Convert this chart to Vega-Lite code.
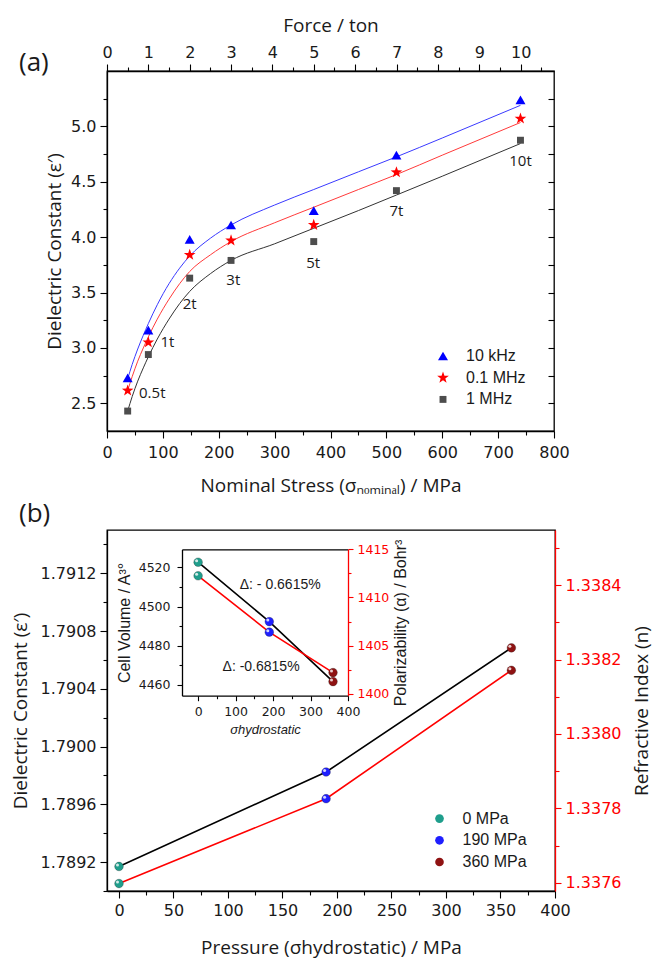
{
  "$schema": "https://vega.github.io/schema/vega-lite/v6.json",
  "background": "white",
  "padding": {"left": 10, "top": 15, "right": 0, "bottom": 0},
  "spacing": 4,
  "config": {
    "view": {"stroke": "#000", "strokeWidth": 1.3},
    "axis": {"grid": false, "domainColor": "#000", "domainWidth": 1.3, "tickColor": "#000", "tickWidth": 1.1, "labelColor": "#1a1a1a", "titleColor": "#1a1a1a", "labelFont": "DejaVu Sans", "labelFontSize": 16, "titleFont": "Open Sans", "titleFontSize": 19, "titleFontWeight": "normal", "labelOverlap": false, "labelFlush": false, "labelPadding": 4},
    "title": {"font": "Open Sans", "fontSize": 26, "fontWeight": "normal", "color": "#1a1a1a"},
    "legend": {"labelFont": "Liberation Sans", "labelFontSize": 16, "labelColor": "#1a1a1a"}
  },
  "datasets": {
    "curves": [
      {"s": "10 kHz", "x": 37, "y": 2.72}, {"s": "10 kHz", "x": 45, "y": 2.85}, {"s": "10 kHz", "x": 55, "y": 2.99}, {"s": "10 kHz", "x": 65, "y": 3.115}, {"s": "10 kHz", "x": 74, "y": 3.22}, {"s": "10 kHz", "x": 90, "y": 3.39}, {"s": "10 kHz", "x": 111, "y": 3.58}, {"s": "10 kHz", "x": 130, "y": 3.72}, {"s": "10 kHz", "x": 148, "y": 3.83}, {"s": "10 kHz", "x": 185, "y": 3.99}, {"s": "10 kHz", "x": 222, "y": 4.11}, {"s": "10 kHz", "x": 300, "y": 4.29}, {"s": "10 kHz", "x": 370, "y": 4.43}, {"s": "10 kHz", "x": 450, "y": 4.59}, {"s": "10 kHz", "x": 518, "y": 4.725}, {"s": "10 kHz", "x": 600, "y": 4.895}, {"s": "10 kHz", "x": 740, "y": 5.19},
      {"s": "0.1 MHz", "x": 37, "y": 2.615}, {"s": "0.1 MHz", "x": 45, "y": 2.74}, {"s": "0.1 MHz", "x": 55, "y": 2.88}, {"s": "0.1 MHz", "x": 65, "y": 3.0}, {"s": "0.1 MHz", "x": 74, "y": 3.10}, {"s": "0.1 MHz", "x": 90, "y": 3.26}, {"s": "0.1 MHz", "x": 111, "y": 3.44}, {"s": "0.1 MHz", "x": 130, "y": 3.58}, {"s": "0.1 MHz", "x": 148, "y": 3.69}, {"s": "0.1 MHz", "x": 185, "y": 3.84}, {"s": "0.1 MHz", "x": 222, "y": 3.96}, {"s": "0.1 MHz", "x": 300, "y": 4.13}, {"s": "0.1 MHz", "x": 370, "y": 4.27}, {"s": "0.1 MHz", "x": 450, "y": 4.43}, {"s": "0.1 MHz", "x": 518, "y": 4.565}, {"s": "0.1 MHz", "x": 600, "y": 4.74}, {"s": "0.1 MHz", "x": 740, "y": 5.035},
      {"s": "1 MHz", "x": 37, "y": 2.43}, {"s": "1 MHz", "x": 45, "y": 2.56}, {"s": "1 MHz", "x": 55, "y": 2.70}, {"s": "1 MHz", "x": 65, "y": 2.82}, {"s": "1 MHz", "x": 74, "y": 2.92}, {"s": "1 MHz", "x": 90, "y": 3.08}, {"s": "1 MHz", "x": 111, "y": 3.26}, {"s": "1 MHz", "x": 130, "y": 3.40}, {"s": "1 MHz", "x": 148, "y": 3.51}, {"s": "1 MHz", "x": 185, "y": 3.67}, {"s": "1 MHz", "x": 222, "y": 3.79}, {"s": "1 MHz", "x": 300, "y": 3.94}, {"s": "1 MHz", "x": 370, "y": 4.08}, {"s": "1 MHz", "x": 450, "y": 4.24}, {"s": "1 MHz", "x": 518, "y": 4.38}, {"s": "1 MHz", "x": 600, "y": 4.55}, {"s": "1 MHz", "x": 740, "y": 4.845}
    ],
    "pts": [
      {"s": "10 kHz", "ton": 0.5, "x": 37, "y": 2.73}, {"s": "10 kHz", "ton": 1, "x": 74, "y": 3.16}, {"s": "10 kHz", "ton": 2, "x": 148, "y": 3.98}, {"s": "10 kHz", "ton": 3, "x": 222, "y": 4.11}, {"s": "10 kHz", "ton": 5, "x": 370, "y": 4.24}, {"s": "10 kHz", "ton": 7, "x": 518, "y": 4.74}, {"s": "10 kHz", "ton": 10, "x": 740, "y": 5.24},
      {"s": "0.1 MHz", "ton": 0.5, "x": 37, "y": 2.615}, {"s": "0.1 MHz", "ton": 1, "x": 74, "y": 3.05}, {"s": "0.1 MHz", "ton": 2, "x": 148, "y": 3.84}, {"s": "0.1 MHz", "ton": 3, "x": 222, "y": 3.97}, {"s": "0.1 MHz", "ton": 5, "x": 370, "y": 4.11}, {"s": "0.1 MHz", "ton": 7, "x": 518, "y": 4.585}, {"s": "0.1 MHz", "ton": 10, "x": 740, "y": 5.07},
      {"s": "1 MHz", "ton": 0.5, "x": 37, "y": 2.43}, {"s": "1 MHz", "ton": 1, "x": 74, "y": 2.94}, {"s": "1 MHz", "ton": 2, "x": 148, "y": 3.63}, {"s": "1 MHz", "ton": 3, "x": 222, "y": 3.79}, {"s": "1 MHz", "ton": 5, "x": 370, "y": 3.96}, {"s": "1 MHz", "ton": 7, "x": 518, "y": 4.42}, {"s": "1 MHz", "ton": 10, "x": 740, "y": 4.875}
    ],
    "tlab": [
      {"t": "0.5t", "x": 81, "y": 2.59}, {"t": "1t", "x": 108, "y": 3.05}, {"t": "2t", "x": 148, "y": 3.40}, {"t": "3t", "x": 226, "y": 3.61}, {"t": "5t", "x": 369, "y": 3.77}, {"t": "7t", "x": 518, "y": 4.235}, {"t": "10t", "x": 740, "y": 4.69}
    ],
    "bulk": [
      {"g": "0 MPa", "p": 0, "d": 1.78917, "n": 1.337598},
      {"g": "190 MPa", "p": 190, "d": 1.789824, "n": 1.337826},
      {"g": "360 MPa", "p": 360, "d": 1.790684, "n": 1.338171}
    ],
    "inset": [
      {"g": "0 MPa", "p": 0, "v": 4522.6, "a": 1412.25},
      {"g": "190 MPa", "p": 190, "v": 4492.3, "a": 1406.4},
      {"g": "360 MPa", "p": 360, "v": 4461.7, "a": 1402.2}
    ],
    "ianno": [
      {"t": "Δ: - 0.6615%", "p": 219, "v": 4511},
      {"t": "Δ: -0.6815%", "p": 168, "v": 4469.3}
    ]
  },
  "resolve": {"scale": {"fill": "independent", "shape": "independent", "size": "independent"}, "legend": {"fill": "independent", "shape": "independent", "size": "independent"}},
  "vconcat": [
    {
      "width": 447,
      "height": 360,
      "title": {"text": "(a)", "anchor": "start", "frame": "group", "dx": -88, "dy": 60, "offset": 0},
      "layer": [
        {
          "encoding": {
            "x": {"field": "x", "type": "quantitative", "scale": {"domain": [0, 800], "nice": false, "zero": false},
              "axis": {"orient": "bottom", "title": "Nominal Stress (σₙₒₘᵢₙₐₗ) / MPa", "values": [0, 50, 100, 150, 200, 250, 300, 350, 400, 450, 500, 550, 600, 650, 700, 750, 800], "labelExpr": "datum.value % 100 === 0 ? datum.label : ''", "tickSize": {"condition": {"test": "datum.value % 100 === 0", "value": 7}, "value": 4}, "labelPadding": 6, "titlePadding": 16}},
            "y": {"field": "y", "type": "quantitative", "scale": {"domain": [2.25, 5.5], "nice": false, "zero": false},
              "axis": {"orient": "left", "title": "Dielectric Constant (ε′)", "values": [2.5, 2.75, 3, 3.25, 3.5, 3.75, 4, 4.25, 4.5, 4.75, 5, 5.25], "format": ".1f", "labelExpr": "round(datum.value * 2) === datum.value * 2 ? datum.label : ''", "tickSize": {"condition": {"test": "round(datum.value * 2) === datum.value * 2", "value": 7}, "value": 4}, "titlePadding": 6}}
          },
          "layer": [
            {"data": {"name": "curves"}, "transform": [{"filter": "datum.s === '10 kHz'"}], "mark": {"type": "line", "strokeWidth": 1, "interpolate": "monotone", "color": "#3a3aff"}},
            {"data": {"name": "curves"}, "transform": [{"filter": "datum.s === '0.1 MHz'"}], "mark": {"type": "line", "strokeWidth": 1, "interpolate": "monotone", "color": "#ff3a3a"}},
            {"data": {"name": "curves"}, "transform": [{"filter": "datum.s === '1 MHz'"}], "mark": {"type": "line", "strokeWidth": 1, "interpolate": "monotone", "color": "#333333"}},
            {
              "data": {"name": "pts"},
              "mark": {"type": "point", "filled": true, "opacity": 1},
              "encoding": {
                "fill": {"field": "s", "type": "nominal", "scale": {"domain": ["10 kHz", "0.1 MHz", "1 MHz"], "range": ["#0000ff", "#ff0000", "#4d4d4d"]},
                  "legend": {"title": null, "orient": "none", "legendX": 328, "legendY": 277, "rowPadding": 5.7, "labelOffset": 15, "padding": 0, "symbolStrokeWidth": 0}},
                "shape": {"field": "s", "type": "nominal", "scale": {"domain": ["10 kHz", "0.1 MHz", "1 MHz"], "range": ["triangle-up", "M0,-1L0.2351,-0.3236L0.9511,-0.309L0.3804,0.1236L0.5878,0.809L0,0.4L-0.5878,0.809L-0.3804,0.1236L-0.9511,-0.309L-0.2351,-0.3236Z", "square"]},
                  "legend": {"title": null, "orient": "none", "legendX": 328, "legendY": 277, "rowPadding": 5.7, "labelOffset": 15, "padding": 0, "symbolStrokeWidth": 0}},
                "size": {"field": "s", "type": "nominal", "scale": {"type": "ordinal", "domain": ["10 kHz", "0.1 MHz", "1 MHz"], "range": [100, 150, 48]},
                  "legend": {"title": null, "orient": "none", "legendX": 328, "legendY": 277, "rowPadding": 5.7, "labelOffset": 15, "padding": 0, "symbolStrokeWidth": 0}}
              }
            },
            {
              "data": {"name": "tlab"},
              "mark": {"type": "text", "font": "Open Sans", "fontSize": 15, "color": "#1a1a1a", "align": "center", "baseline": "middle"},
              "encoding": {"text": {"field": "t"}}
            }
          ]
        },
        {
          "data": {"name": "pts"},
          "mark": {"type": "point", "opacity": 0},
          "encoding": {
            "x": {"field": "ton", "type": "quantitative", "scale": {"domain": [0, 10.807], "nice": false, "zero": false},
              "axis": {"orient": "top", "title": "Force / ton", "values": [0, 0.5, 1, 1.5, 2, 2.5, 3, 3.5, 4, 4.5, 5, 5.5, 6, 6.5, 7, 7.5, 8, 8.5, 9, 9.5, 10, 10.5], "labelExpr": "datum.value % 1 === 0 ? format(datum.value, 'd') : ''", "tickSize": {"condition": {"test": "datum.value % 1 === 0", "value": 7}, "value": 4}, "titlePadding": 9}}
          }
        },
        {
          "data": {"name": "pts"},
          "mark": {"type": "point", "opacity": 0},
          "encoding": {
            "y": {"field": "y", "type": "quantitative", "scale": {"domain": [2.25, 5.5], "nice": false, "zero": false},
              "axis": {"orient": "right", "title": null, "labels": false, "domain": false, "values": [2.5, 2.75, 3, 3.25, 3.5, 3.75, 4, 4.25, 4.5, 4.75, 5, 5.25], "tickSize": -6}}
          }
        }
      ],
      "resolve": {"scale": {"x": "independent"}, "axis": {"x": "independent", "y": "independent"}}
    },
    {
      "width": 448,
      "height": 361,
      "title": {"text": "(b)", "anchor": "start", "frame": "group", "dx": -88, "offset": 3},
      "layer": [
        {
          "data": {"name": "bulk"},
          "encoding": {
            "x": {"field": "p", "type": "quantitative", "scale": {"domain": [-11, 400], "nice": false, "zero": false},
              "axis": {"orient": "bottom", "title": "Pressure (σhydrostatic) / MPa", "values": [0, 25, 50, 75, 100, 125, 150, 175, 200, 225, 250, 275, 300, 325, 350, 375, 400], "labelExpr": "datum.value % 50 === 0 ? datum.label : ''", "tickSize": {"condition": {"test": "datum.value % 50 === 0", "value": 7}, "value": 4}, "titlePadding": 20}},
            "y": {"field": "d", "type": "quantitative", "scale": {"domain": [1.789, 1.7915], "nice": false, "zero": false},
              "axis": {"orient": "left", "title": "Dielectric Constant (ε′)", "values": [1.789, 1.7892, 1.7894, 1.7896, 1.7898, 1.79, 1.7902, 1.7904, 1.7906, 1.7908, 1.791, 1.7912, 1.7914], "format": ".4f", "labelExpr": "round(datum.value * 10000) % 4 === 0 ? datum.label : ''", "tickSize": {"condition": {"test": "round(datum.value * 10000) % 4 === 0", "value": 7}, "value": 4}, "titlePadding": 10}}
          },
          "layer": [
            {"mark": {"type": "line", "color": "#000", "strokeWidth": 1.6}},
            {"mark": {"type": "point", "filled": true, "size": 75, "opacity": 1, "stroke": "#222", "strokeWidth": 0.3},
              "encoding": {"fill": {"field": "g", "type": "nominal", "scale": {"domain": ["0 MPa", "190 MPa", "360 MPa"], "range": ["#1f9e8c", "#1f1fff", "#8f1212"]},
                "legend": {"title": null, "orient": "none", "legendX": 324.5, "legendY": 280.6, "symbolSize": 75, "symbolType": "circle", "rowPadding": 5.7, "labelOffset": 15, "padding": 0, "symbolStrokeWidth": 0}}}},
            {"mark": {"type": "point", "filled": true, "size": 9, "color": "white", "opacity": 0.8, "xOffset": -1.5, "yOffset": -1.5}}
          ]
        },
        {
          "data": {"name": "bulk"},
          "encoding": {
            "x": {"field": "p", "type": "quantitative", "scale": {"domain": [-11, 400], "nice": false, "zero": false}, "axis": null},
            "y": {"field": "n", "type": "quantitative", "scale": {"domain": [1.337578, 1.338548], "nice": false, "zero": false},
              "axis": {"orient": "right", "title": "Refractive Index (n)", "titleAngle": 270, "titleBaseline": "top", "domainColor": "#ff0000", "tickColor": "#ff0000", "labelColor": "#ff0000", "values": [1.3376, 1.3377, 1.3378, 1.3379, 1.338, 1.3381, 1.3382, 1.3383, 1.3384, 1.3385], "format": ".4f", "labelExpr": "round(datum.value * 10000) % 2 === 0 ? datum.label : ''", "tickSize": {"condition": {"test": "round(datum.value * 10000) % 2 === 0", "value": 6}, "value": 4}, "labelPadding": 4, "titlePadding": 12}}
          },
          "layer": [
            {"mark": {"type": "line", "color": "#ff0000", "strokeWidth": 1.6}},
            {"mark": {"type": "point", "filled": true, "size": 75, "opacity": 1, "stroke": "#222", "strokeWidth": 0.3},
              "encoding": {"fill": {"field": "g", "type": "nominal", "scale": {"domain": ["0 MPa", "190 MPa", "360 MPa"], "range": ["#1f9e8c", "#1f1fff", "#8f1212"]},
                "legend": {"title": null, "orient": "none", "legendX": 324.5, "legendY": 280.6, "symbolSize": 75, "symbolType": "circle", "rowPadding": 5.7, "labelOffset": 15, "padding": 0, "symbolStrokeWidth": 0}}}},
            {"mark": {"type": "point", "filled": true, "size": 9, "color": "white", "opacity": 0.8, "xOffset": -1.5, "yOffset": -1.5}}
          ]
        },
        {
          "data": {"name": "inset"},
          "encoding": {
            "x": {"field": "p", "type": "quantitative", "scale": {"domain": [-43, 400], "range": [75, 241], "nice": false, "zero": false},
              "axis": {"orient": "bottom", "offset": -195.3, "title": "σhydrostatic", "titleFontStyle": "italic", "titleFont": "Liberation Sans", "titleFontSize": 13, "titlePadding": 5, "labelFontSize": 12.5, "format": "d", "values": [0, 50, 100, 150, 200, 250, 300, 350, 400], "labelExpr": "datum.value % 100 === 0 ? datum.label : ''", "tickSize": {"condition": {"test": "datum.value % 100 === 0", "value": 5}, "value": 3}, "labelPadding": 5}},
            "y": {"field": "v", "type": "quantitative", "scale": {"domain": [4454.5, 4529.2], "range": [165.7, 19.3], "nice": false, "zero": false},
              "axis": {"orient": "left", "offset": -75, "title": "Cell Volume / A³°", "titleFont": "Liberation Sans", "titleFontSize": 16, "titlePadding": 6, "labelFontSize": 12.5, "format": "d", "values": [4460, 4470, 4480, 4490, 4500, 4510, 4520], "labelExpr": "datum.value % 20 === 0 ? datum.label : ''", "tickSize": {"condition": {"test": "datum.value % 20 === 0", "value": 5}, "value": 3}, "labelPadding": 7}}
          },
          "layer": [
            {"mark": {"type": "line", "color": "#000", "strokeWidth": 1.6}},
            {"mark": {"type": "point", "filled": true, "size": 75, "opacity": 1, "stroke": "#222", "strokeWidth": 0.3},
              "encoding": {"fill": {"field": "g", "type": "nominal", "scale": {"domain": ["0 MPa", "190 MPa", "360 MPa"], "range": ["#1f9e8c", "#1f1fff", "#8f1212"]},
                "legend": {"title": null, "orient": "none", "legendX": 324.5, "legendY": 280.6, "symbolSize": 75, "symbolType": "circle", "rowPadding": 5.7, "labelOffset": 15, "padding": 0, "symbolStrokeWidth": 0}}}},
            {"mark": {"type": "point", "filled": true, "size": 9, "color": "white", "opacity": 0.8, "xOffset": -1.5, "yOffset": -1.5}},
            {"data": {"name": "ianno"}, "mark": {"type": "text", "font": "Liberation Sans", "fontSize": 14, "color": "#1a1a1a", "align": "center", "baseline": "middle"}, "encoding": {"text": {"field": "t"}}}
          ]
        },
        {
          "data": {"name": "inset"},
          "encoding": {
            "x": {"field": "p", "type": "quantitative", "scale": {"domain": [-43, 400], "range": [75, 241], "nice": false, "zero": false},
              "axis": {"orient": "top", "offset": -19.3, "title": null, "labels": false, "ticks": false, "domainColor": "#000"}},
            "y": {"field": "a", "type": "quantitative", "scale": {"domain": [1399.8, 1415], "range": [165.7, 19.3], "nice": false, "zero": false},
              "axis": {"orient": "right", "offset": -207, "title": "Polarizability (α) / Bohr³", "titleAngle": 270, "titleBaseline": "top", "titleFont": "Liberation Sans", "titleFontSize": 16, "titlePadding": 4, "labelFontSize": 12.5, "format": "d", "domainColor": "#ff0000", "tickColor": "#ff0000", "labelColor": "#ff0000", "values": [1400, 1402.5, 1405, 1407.5, 1410, 1412.5, 1415], "labelExpr": "datum.value % 5 === 0 ? datum.label : ''", "tickSize": {"condition": {"test": "datum.value % 5 === 0", "value": 5}, "value": 3}, "labelPadding": 4}}
          },
          "layer": [
            {"mark": {"type": "line", "color": "#ff0000", "strokeWidth": 1.6}},
            {"mark": {"type": "point", "filled": true, "size": 75, "opacity": 1, "stroke": "#222", "strokeWidth": 0.3},
              "encoding": {"fill": {"field": "g", "type": "nominal", "scale": {"domain": ["0 MPa", "190 MPa", "360 MPa"], "range": ["#1f9e8c", "#1f1fff", "#8f1212"]},
                "legend": {"title": null, "orient": "none", "legendX": 324.5, "legendY": 280.6, "symbolSize": 75, "symbolType": "circle", "rowPadding": 5.7, "labelOffset": 15, "padding": 0, "symbolStrokeWidth": 0}}}},
            {"mark": {"type": "point", "filled": true, "size": 9, "color": "white", "opacity": 0.8, "xOffset": -1.5, "yOffset": -1.5}}
          ]
        }
      ],
      "resolve": {"scale": {"x": "independent", "y": "independent"}, "axis": {"x": "independent", "y": "independent"}}
    }
  ]
}
